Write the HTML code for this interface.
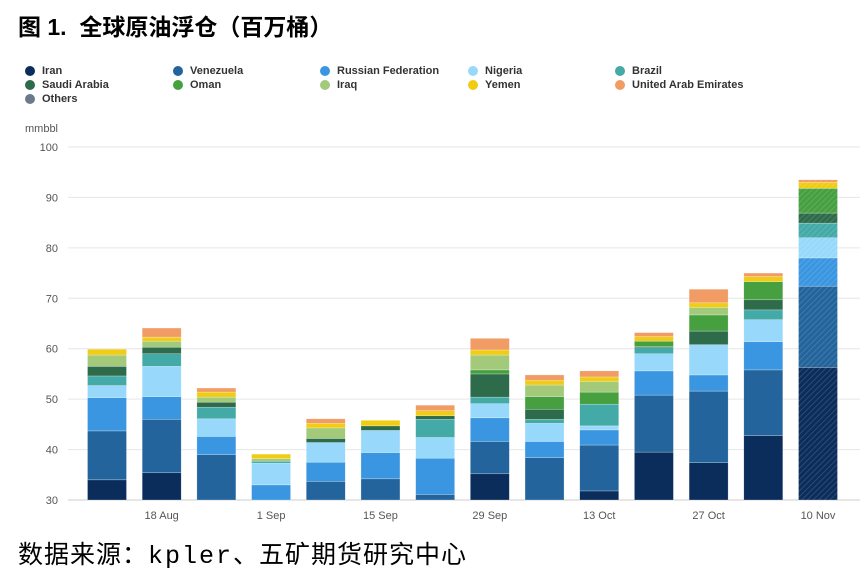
<!DOCTYPE html>
<html><head><meta charset="utf-8">
<style>
body{margin:0;background:#fff;width:866px;height:576px;overflow:hidden;font-family:"Liberation Sans","Noto Sans CJK SC",sans-serif;}
.title{position:absolute;left:18px;top:8px;font-size:23px;font-weight:bold;color:#000;font-family:"Liberation Sans","Noto Sans CJK SC",sans-serif;}
.foot{position:absolute;left:18px;top:535px;font-size:25px;color:#000;letter-spacing:1px;white-space:nowrap;}
.foot span{font-family:"Liberation Mono",monospace;font-size:25px;letter-spacing:2px;}
.leg{position:absolute;font-size:11px;color:#333;display:flex;align-items:center;font-weight:bold;}
.leg i{display:inline-block;width:10px;height:10px;border-radius:50%;margin-right:7px;}
</style></head><body>
<div class="title">图 1.&nbsp; 全球原油浮仓（百万桶）</div>
<div id="legend"></div>
<svg id="chart" width="866" height="576" style="position:absolute;left:0;top:0">
<defs><pattern id="hatch" width="4" height="4" patternUnits="userSpaceOnUse" patternTransform="rotate(45)"><line x1="0" y1="0" x2="0" y2="4" stroke="#fff" stroke-opacity="0.18" stroke-width="1.5"/></pattern></defs>
</svg>
<div class="foot">数据来源：<span>kpler</span>、五矿期货研究中心</div>
<script>
const series=["Iran","Venezuela","Russian Federation","Nigeria","Brazil","Saudi Arabia","Oman","Iraq","Yemen","United Arab Emirates","Others"];
const colors=["#0b2d5b","#22649b","#3a96e0","#98d9fb","#43aaa8","#2e6b4a","#46a040","#a3c97a","#f0cc13","#f19b65","#6b7a8a"];
const iran=[34,35.4,0,0,0,0,0,35.2,0,31.8,39.5,37.4,42.75,56.3];
const venezuela=[9.7,10.6,39,0,33.7,34.2,31.1,6.4,38.4,9.1,11.3,14.2,13.05,16.1];
const russia=[6.6,4.5,3.6,33,3.8,5.2,7.2,4.7,3.2,3.0,4.8,3.2,5.6,5.6];
const nigeria=[2.4,6.0,3.5,4.3,3.9,4.4,4.1,2.8,3.6,0.8,3.4,6.0,4.35,4.0];
const brazil=[1.9,2.5,2.3,0.4,0,0,3.6,1.3,0.8,4.3,1.2,0,1.95,2.9];
const saudi=[1.9,1.3,1.0,0,0.8,0.9,0.7,4.6,2.0,0,0.2,2.7,2.0,2.0];
const oman=[0,0,0,0,0,0,0,0.8,2.5,2.4,1.1,3.2,3.6,4.9];
const iraq=[2.25,1.2,1.0,0.5,2.1,0,0,2.95,2.3,2.1,0,1.5,0,0];
const yemen=[1.15,0.8,1.0,0.9,0.9,1.1,1.0,1.0,0.9,0.9,0.9,0.9,1.0,1.2];
const uae=[0,1.8,0.8,0,0.9,0,1.1,2.3,1.1,1.2,0.8,2.7,0.7,0.5];
const others=[0,0,0,0,0,0,0,0,0,0,0,0,0,0];
const values=[iran,venezuela,russia,nigeria,brazil,saudi,oman,iraq,yemen,uae,others];
const yTicks=[30,40,50,60,70,80,90,100];
const xLabels=["","18 Aug","","1 Sep","","15 Sep","","29 Sep","","13 Oct","","27 Oct","","10 Nov"];
const hatched=[false,false,false,false,false,false,false,false,false,false,false,false,false,true];

const NS="http://www.w3.org/2000/svg";
const svg=document.getElementById('chart');
const yMin=30,yMax=100,y0=500,y1=147;
const yS=v=>y0-(v-yMin)*(y0-y1)/(yMax-yMin);
const n=iran.length, xStart=107, step=(818-107)/(n-1), bw=39;
const xS=i=>xStart+i*step;
function mk(t,a){const e=document.createElementNS(NS,t);for(const k in a)e.setAttribute(k,a[k]);svg.appendChild(e);return e;}
yTicks.forEach(t=>{
 const g=mk('line',{x1:68,x2:860,y1:yS(t),y2:yS(t),stroke:t===30?'#ccc':'#e6e6e6','stroke-width':1});
 
 
 const tx=mk('text',{x:58,y:yS(t)+4,'text-anchor':'end','font-size':11,fill:'#555'});
 tx.textContent=t;
 
 
});
const u=mk('text',{x:25,y:132,'font-size':11,fill:'#555'});u.textContent='mmbbl';


for(let i=0;i<n;i++){
 let base=0;
 for(let s=0;s<series.length;s++){
  const v=values[s][i]; if(!v){continue;}
  const lo=Math.max(base,yMin), hi=base+v; base=hi;
  if(hi<=yMin)continue;
  const r=mk('rect',{x:xS(i)-bw/2,y:yS(hi),width:bw,height:yS(lo)-yS(hi),fill:colors[s],stroke:'rgba(255,255,255,0.5)','stroke-width':0.5});
  
  
  if(hatched[i]){const h=mk('rect',{x:xS(i)-bw/2,y:yS(hi),width:bw,height:yS(lo)-yS(hi),fill:'url(#hatch)'});
   
   }
 }
 if(xLabels[i]){const t=mk('text',{x:xS(i),y:519,'text-anchor':'middle','font-size':11,fill:'#555'});t.textContent=xLabels[i];
  
  }
}
const leg=document.getElementById('legend');
const cols=[25,173,320,468,615], rows=[65,79,93];
series.forEach((s,k)=>{
 const d=document.createElement('div');d.className='leg';
 d.style.left=cols[k%5]+'px';d.style.top=rows[Math.floor(k/5)]+'px';
 d.innerHTML='<i style="background:'+colors[k]+'"></i>'+s;
 
 
 leg.appendChild(d);
});
</script>
</body></html>
